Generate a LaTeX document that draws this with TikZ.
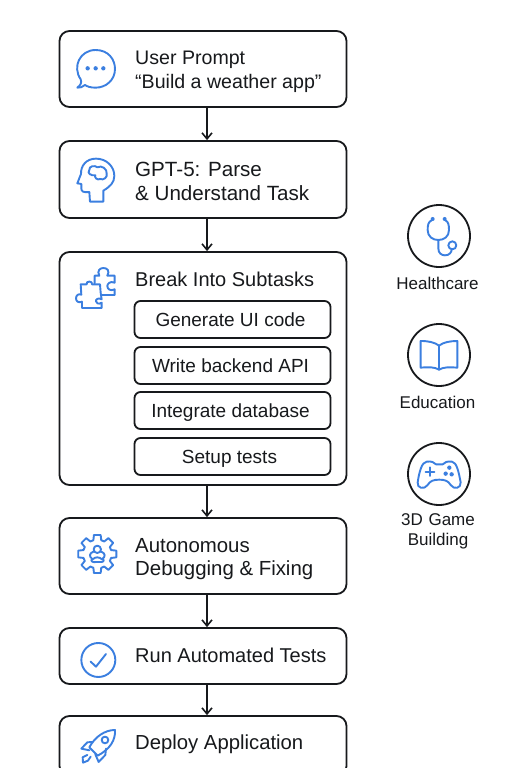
\documentclass[tikz,border=0pt]{standalone}
\usepackage{fontspec}
\setmainfont{Liberation Sans}
\usetikzlibrary{arrows.meta}
\definecolor{ink}{HTML}{17191C}
\definecolor{iconblue}{HTML}{3B7FE0}
\tikzset{
  box/.style={draw=ink,line width=1.8pt,rounded corners=10pt,fill=white,inner sep=0pt,minimum width=287pt},
  subbox/.style={draw=ink,line width=1.8pt,rounded corners=6pt,fill=white,inner sep=0pt,minimum width=196pt,minimum height=37pt},
  ringnode/.style={draw=ink,line width=1.8pt,circle,minimum size=62pt,inner sep=0pt},
  flow/.style={draw=ink,line width=1.6pt,-{Straight Barb[length=6pt,width=10pt,line width=1.6pt]}},
  lbl/.style={text=ink,font=\fontsize{20}{24}\selectfont,anchor=west,align=left,inner sep=0pt},
  sublbl/.style={text=ink,font=\fontsize{19}{22}\selectfont,inner sep=0pt,text height=13pt,text depth=0pt},
  captext/.style={text=ink,font=\fontsize{17}{20}\selectfont,align=center,inner sep=0pt},
  icon/.style={draw=iconblue,line width=1.9pt,line join=round,line cap=round,fill=none},
  zoomed/.style={x=0.3333pt,y=-0.3333pt}
}
\begin{document}
\begin{tikzpicture}[x=1pt,y=-1pt]
\useasboundingbox (0,0) rectangle (512,768);
\clip (0,0) rectangle (512,768);
\fill[white] (0,0) rectangle (512,768);
% main boxes
\node[box,minimum height=76pt] (prompt) at (203,69) {};
\node[box,minimum height=77pt] (parse) at (203,179.5) {};
\node[box,minimum height=233pt] (tasks) at (203,368.5) {};
\node[box,minimum height=76pt] (debug) at (203,556) {};
\node[box,minimum height=56pt] (tests) at (203,656) {};
\node[box,minimum height=60pt] (deploy) at (203,746) {};
% sub boxes
\node[subbox] (s1) at (232.5,319.5) {};
\node[subbox] (s2) at (232.5,365.5) {};
\node[subbox] (s3) at (232.5,410.5) {};
\node[subbox] (s4) at (232.5,456.5) {};
\node[sublbl] (s1t) at (230.5,319.5) {Generate UI code};
\node[sublbl] (s2t) at (230.5,365.5) {Write backend API};
\node[sublbl] (s3t) at (230.5,410.5) {Integrate database};
\node[sublbl] (s4t) at (229.5,456.5) {Setup tests};
% labels
\node[lbl,font=\fontsize{19.6}{24}\selectfont] (t1) at (135,71.5) {User Prompt\\“Build a weather app”};
\node[lbl,font=\fontsize{20.6}{24}\selectfont] (t2) at (135,181) {GPT-5: Parse\\\& Understand Task};
\node[lbl] (t3) at (135,279) {Break Into Subtasks};
\node[lbl,font=\fontsize{20.4}{23.5}\selectfont] (t4) at (135,559) {Autonomous\\Debugging \& Fixing};
\node[lbl] (t5) at (135,655) {Run Automated Tests};
\node[lbl,font=\fontsize{20.3}{24}\selectfont] (t6) at (135,744) {Deploy Application};
% arrows
\coordinate (ax) at (207,0);
\draw[flow] (ax |- prompt.south) -- (ax |- parse.north);
\draw[flow] (ax |- parse.south) -- (ax |- tasks.north);
\draw[flow] (ax |- tasks.south) -- (ax |- debug.north);
\draw[flow] (ax |- debug.south) -- (ax |- tests.north);
\draw[flow] (ax |- tests.south) -- (ax |- deploy.north);
% right circles
\node[ringnode] (c1) at (439,236) {};
\node[ringnode] (c2) at (439,355) {};
\node[ringnode] (c3) at (439,474) {};
\node[captext] (c1t) at (437.5,283.5) {Healthcare};
\node[captext] (c2t) at (437.5,402) {Education};
\node[captext,text width=90pt] (c3t) at (438,531) {3D Game\\Building};
% chat icon
\begin{scope}[shift={(50,20)},zoomed]
\draw[icon] (82,203) .. controls (92,195) and (96,188) .. (92,178)
  .. controls (66,140) and (90,90) .. (137,90)
  .. controls (175,90) and (195,118) .. (195,147)
  .. controls (195,180) and (168,203) .. (137,203)
  .. controls (122,203) and (112,200) .. (105,195)
  .. controls (98,201) and (90,204) .. (82,203) -- cycle;
\foreach \dx in {113,137,160}{\fill[iconblue] (\dx,145) circle (6.5);}
% head icon
\draw[icon] (120,545) -- (160,545) -- (160,512)
  .. controls (180,500) and (193,488) .. (193,468)
  .. controls (193,438) and (168,416) .. (138,416)
  .. controls (108,416) and (92,438) .. (93,462)
  -- (82,490) -- (94,492) -- (94,505)
  .. controls (94,515) and (100,518) .. (118,516) -- (120,545);
\draw[icon] (118,450) .. controls (116,438) and (135,435) .. (142,442)
  .. controls (155,434) and (172,448) .. (170,460)
  .. controls (174,472) and (160,482) .. (150,477)
  .. controls (142,482) and (132,472) .. (136,466)
  .. controls (124,468) and (110,460) .. (118,450) -- cycle;
\end{scope}
% puzzle icon
\begin{scope}[shift={(50,250)},zoomed]
\draw[icon] (134,100) -- (134,77) -- (148,77)
  .. controls (140,62) and (150,54) .. (160,54)
  .. controls (172,54) and (180,62) .. (172,77)
  -- (194,77) -- (194,98)
  .. controls (180,92) and (172,102) .. (172,108)
  .. controls (172,118) and (182,124) .. (194,118)
  -- (194,135) -- (155,135);
\draw[icon] (92,103) -- (110,103)
  .. controls (106,92) and (130,92) .. (126,103)
  -- (150,103) -- (152,128) -- (155,148)
  .. controls (146,142) and (136,148) .. (138,154)
  .. controls (138,160) and (146,164) .. (155,158)
  -- (155,174) -- (96,174) -- (96,155)
  .. controls (86,160) and (78,154) .. (78,145)
  .. controls (78,136) and (86,130) .. (94,134)
  -- cycle;
\end{scope}
% gear icon
\begin{scope}[shift={(97.3,554)},zoomed]
\draw[icon] (-10:58) foreach \a in {0,45,...,315}{
   -- (\a-10:58) -- (\a+10:58) -- (\a+16:43) -- (\a+29:43) } -- cycle;
\draw[icon] (0,-14) circle (11);
\draw[icon] (-10,-8) .. controls (-26,-2) and (-24,8) .. (-16,14)
  .. controls (-22,22) and (-12,26) .. (-4,24) -- (6,24)
  .. controls (16,26) and (24,20) .. (16,14)
  .. controls (24,8) and (26,-2) .. (10,-8);
\draw[icon] (-14,16) .. controls (-6,8) and (6,8) .. (14,16);
\end{scope}
% check icon
\begin{scope}[shift={(50,510)},zoomed]
\draw[icon] (145,450) circle (51);
\draw[icon] (122,455) -- (138,470) -- (168,432);
% rocket icon
\draw[icon] (195,660) .. controls (165,660) and (135,680) .. (118,712)
  -- (143,737) .. controls (180,718) and (197,690) .. (195,660) -- cycle;
\draw[icon] (165,690) circle (10);
\draw[icon] (128,696) -- (112,697) -- (94,716) -- (118,721);
\draw[icon] (168,716) -- (166,735) -- (146,756) -- (136,733);
\draw[icon] (112,735) -- (98,742) -- (99,758) -- (114,752) -- (122,740);
\end{scope}
% stethoscope icon
\begin{scope}[shift={(380,195)},zoomed]
\fill[iconblue] (158,72) circle (6);
\fill[iconblue] (194,72) circle (6);
\draw[icon] (155,76) .. controls (145,80) and (143,90) .. (143,105)
  .. controls (143,125) and (158,135) .. (175,135)
  .. controls (192,135) and (207,125) .. (207,105)
  .. controls (207,90) and (205,80) .. (196,76);
\draw[icon] (175,135) -- (175,160) .. controls (175,175) and (185,181) .. (195,181)
  .. controls (208,181) and (215,172) .. (215,163);
\draw[icon] (217,151) circle (12);
% book icon
\draw[icon] (177,452) .. controls (165,442) and (145,438) .. (122,438) -- (122,518)
  .. controls (145,516) and (165,516) .. (177,524)
  .. controls (190,516) and (210,516) .. (232,518) -- (232,438)
  .. controls (210,438) and (190,442) .. (177,452) -- cycle;
\draw[icon] (177,452) -- (177,524);
\end{scope}
% controller icon
\begin{scope}[shift={(380,375)},zoomed]
\draw[icon] (140,260) .. controls (155,258) and (162,262) .. (168,268) -- (188,268)
  .. controls (194,262) and (201,258) .. (216,260)
  .. controls (230,262) and (236,290) .. (242,322)
  .. controls (244,340) and (222,345) .. (212,330)
  .. controls (205,318) and (195,314) .. (178,314)
  .. controls (160,314) and (150,318) .. (143,330)
  .. controls (133,345) and (110,340) .. (113,322)
  .. controls (118,290) and (125,262) .. (140,260) -- cycle;
\draw[icon] (137,290) -- (163,290) (150,277) -- (150,303);
\foreach \p in {(208,278),(197,296),(215,298)}{\fill[iconblue] \p circle (6.5);}
\end{scope}
\end{tikzpicture}
\end{document}
